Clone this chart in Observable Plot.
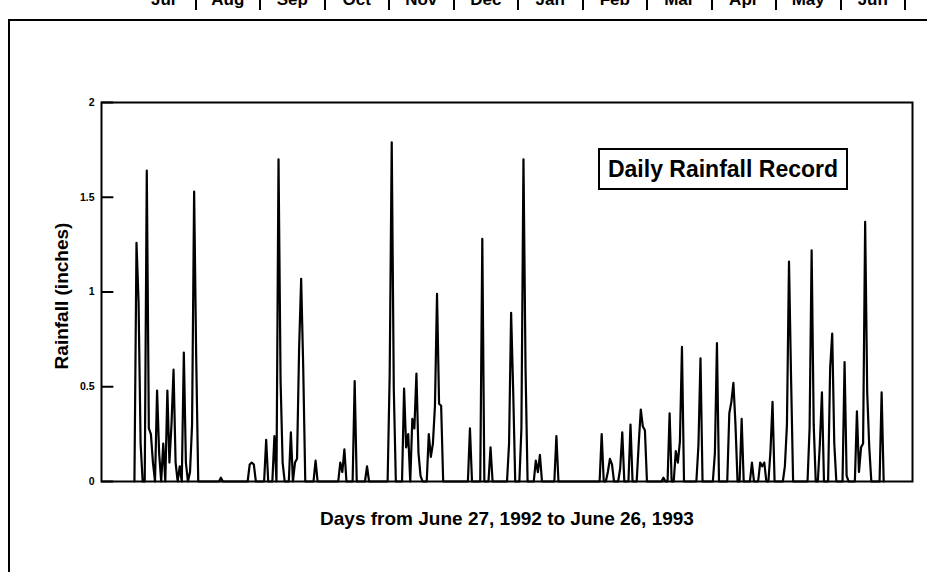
<!DOCTYPE html>
<html><head><meta charset="utf-8">
<script src="https://cdn.jsdelivr.net/npm/d3@7"></script>
<script src="https://cdn.jsdelivr.net/npm/@observablehq/plot@0.6"></script>
<style>
body{margin:0;background:#fff;width:927px;height:572px;overflow:hidden;position:relative;font-family:"Liberation Sans",Arial,Helvetica,sans-serif;}
#frame{position:absolute;left:8px;top:19px;width:1000px;height:700px;border-left:2px solid #000;border-top:2px solid #000;}
#months{position:absolute;top:-10px;left:132px;white-space:nowrap;font-weight:bold;font-size:17px;display:flex;}
#months span{display:inline-block;width:64.5px;text-align:center;border-right:2px solid #000;box-sizing:border-box;line-height:20px;}
#chart{position:absolute;left:0;top:0;}
#legend{position:absolute;left:598px;top:148px;width:250px;height:42px;border:2px solid #000;box-sizing:border-box;background:#fff;font-size:23px;font-weight:bold;text-align:center;line-height:38px;}
</style></head>
<body>
<div id="frame"></div>
<div id="months"></div>
<div id="chart"></div>
<div id="legend">Daily Rainfall Record</div>
<script>
// Month header along the top (partly cut off in the reference)
const months = ["Jul","Aug","Sep","Oct","Nov","Dec","Jan","Feb","Mar","Apr","May","Jun"];

// Days (0 = June 27, 1992) on which rain fell, and the amounts (inches)
const rainDay = [
  1,2,3,6,7,8,9,11,12,14,16,17,18,19,20,22,24,25,27,28,29,30,42,
  56,57,58,64,68,70,71,72,76,78,79,80,81,82,88,
  100,101,102,107,113,124,125,126,131,132,133,135,136,137,138,139,143,144,145,146,147,148,149,
  163,169,173,182,183,184,188,189,190,195,196,197,205,
  227,230,231,232,236,237,241,245,246,247,248,
  257,260,263,264,265,266,274,275,282,283,289,290,291,292,295,
  300,304,305,306,309,310,316,317,318,319,328,329,330,333,334,338,339,340,345,346,
  351,352,353,354,355,356,357,363
];
const rainInches = [
  1.26,0.95,0.20,1.64,0.28,0.25,0.10,0.48,0.15,0.20,0.48,0.10,0.30,0.59,0.10,0.08,0.68,0.10,0.05,0.30,1.53,0.66,0.02,
  0.09,0.10,0.09,0.22,0.24,1.70,0.53,0.10,0.26,0.10,0.12,0.70,1.07,0.60,0.11,
  0.10,0.05,0.17,0.53,0.08,0.56,1.79,0.49,0.49,0.18,0.25,0.33,0.28,0.57,0.15,0.03,0.25,0.13,0.20,0.40,0.99,0.41,0.40,
  0.28,1.28,0.18,0.20,0.89,0.48,0.28,1.70,0.60,0.11,0.05,0.14,0.24,
  0.25,0.05,0.12,0.09,0.07,0.26,0.30,0.20,0.38,0.29,0.27,
  0.02,0.36,0.16,0.10,0.21,0.71,0.19,0.65,0.15,0.73,0.36,0.42,0.52,0.30,0.33,
  0.10,0.10,0.08,0.10,0.16,0.42,0.08,0.30,1.16,0.55,0.28,1.22,0.30,0.20,0.47,0.60,0.78,0.20,0.63,0.03,
  0.37,0.05,0.18,0.20,1.37,0.47,0.18,0.47
];
const nDays = 365;
const yTicks = [0, 0.5, 1, 1.5, 2];
const yTickLabels = ["0", "0.5", "1", "1.5", "2"];
const xLabel = "Days from June 27, 1992 to June 26, 1993";
const yLabel = "Rainfall (inches)";

const mh = document.getElementById("months");
months.forEach(m => { const s = document.createElement("span"); s.textContent = m; mh.appendChild(s); });

const amount = new Map(rainDay.map((d, i) => [d, rainInches[i]]));
const series = d3.range(nDays).map(d => ({day: d, rain: amount.get(d) ?? 0}));

const xMin = -16, xMax = 378;
const chart = Plot.plot({
  width: 927, height: 572,
  marginLeft: 101, marginRight: 15, marginTop: 102, marginBottom: 91,
  style: {background: "transparent", fontFamily: "'Liberation Sans', Arial, sans-serif", color: "#000"},
  x: {domain: [xMin, xMax], axis: null},
  y: {domain: [0, 2], axis: null},
  marks: [
    Plot.ruleY(yTicks, {x1: xMin, x2: xMin + 6, stroke: "#000", strokeWidth: 2}),
    Plot.text(yTicks, {x: xMin, y: d => d, text: (d, i) => yTickLabels[i], textAnchor: "end", dx: -7, fontSize: 10.5, fontWeight: "bold"}),
    Plot.line(series, {x: "day", y: "rain", stroke: "#000", strokeWidth: 2.2, curve: "linear"}),
    Plot.frame({stroke: "#000", strokeWidth: 2}),
    Plot.text([yLabel], {frameAnchor: "left", textAnchor: "middle", lineAnchor: "middle", rotate: -90, dx: -40, dy: 4, fontSize: 19, fontWeight: "bold"}),
    Plot.text([xLabel], {frameAnchor: "bottom", textAnchor: "middle", lineAnchor: "middle", dy: 37, fontSize: 19, fontWeight: "bold"})
  ]
});
document.getElementById("chart").appendChild(chart);
</script>
</body></html>
